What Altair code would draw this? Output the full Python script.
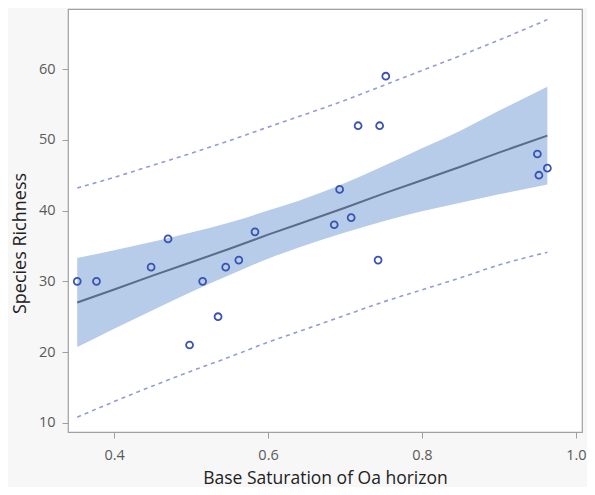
import altair as alt
import pandas as pd

# Observed points
base_sat = [0.352, 0.377, 0.448, 0.470, 0.498, 0.515, 0.535, 0.545, 0.562, 0.583,
            0.686, 0.693, 0.708, 0.717, 0.745, 0.743, 0.753, 0.950, 0.952, 0.963]
richness = [30, 30, 32, 36, 21, 30, 25, 32, 33, 37,
            38, 43, 39, 52, 52, 33, 59, 48, 45, 46]

# Fit, confidence band and prediction limits
band_x = [0.352, 0.40, 0.45, 0.50, 0.55, 0.60, 0.64, 0.70, 0.75, 0.80, 0.85, 0.90, 0.963]
fit    = [27.0, 28.85, 30.8, 32.7, 34.6, 36.6, 38.1, 40.4, 42.4, 44.3, 46.2, 48.2, 50.6]
ci_lo  = [20.7, 23.3, 25.9, 28.5, 30.9, 33.2, 34.8, 36.9, 38.5, 39.9, 41.1, 42.3, 43.7]
ci_hi  = [33.3, 34.4, 35.6, 36.9, 38.3, 40.0, 41.4, 43.9, 46.3, 48.8, 51.3, 54.1, 57.5]
pi_lo  = [10.8, 13.0, 15.2, 17.3, 19.3, 21.4, 22.9, 25.2, 27.1, 28.8, 30.5, 32.3, 34.1]
pi_hi  = [43.2, 44.7, 46.4, 48.1, 49.9, 51.8, 53.3, 55.6, 57.7, 59.8, 61.9, 64.1, 67.0]

x_ticks = [0.4, 0.6, 0.8, 1.0]
y_ticks = [10, 20, 30, 40, 50, 60]

pts = pd.DataFrame({"x": base_sat, "y": richness})
band = pd.DataFrame({"x": band_x, "fit": fit, "lo": ci_lo, "hi": ci_hi,
                     "plo": pi_lo, "phi": pi_hi})

FONT = "Open Sans"
xs = alt.Scale(domain=[0.34, 1.008], nice=False, zero=False)
ys = alt.Scale(domain=[8.7, 68.5], nice=False, zero=False)

xaxis = alt.Axis(values=x_ticks, format=".1f", grid=False, domain=False,
                 tickColor="#a0a0a0", tickSize=6, labelColor="#5a5a5a",
                 labelFont=FONT, labelFontSize=14.5, labelPadding=10,
                 title="Base Saturation of Oa horizon", titleFont=FONT,
                 titleFontSize=17.5, titleFontWeight="normal", titleColor="#222222",
                 titleX=257, titleY=51, titleBaseline="alphabetic", titleAlign="center")
yaxis = alt.Axis(values=y_ticks, grid=False, domain=False,
                 tickColor="#a0a0a0", tickSize=6, labelColor="#5a5a5a",
                 labelFont=FONT, labelFontSize=14.5, labelPadding=7,
                 title="Species Richness", titleFont=FONT,
                 titleFontSize=18, titleFontWeight="normal", titleColor="#222222",
                 titleAngle=270, titleX=-48, titleY=234, titleBaseline="middle",
                 titleAlign="center")

bb = alt.Chart(band)
area = bb.mark_area(color="#b7cce8", opacity=1, interpolate="monotone").encode(
    x=alt.X("x:Q", scale=xs, axis=xaxis),
    y=alt.Y("lo:Q", scale=ys, axis=yaxis),
    y2="hi:Q",
)
fit_line = bb.mark_line(color="#5a6b8e", strokeWidth=2).encode(
    x=alt.X("x:Q", scale=xs), y=alt.Y("fit:Q", scale=ys))
pl_lo = bb.mark_line(color="#929dd3", strokeWidth=1.6, strokeDash=[4, 4],
                     interpolate="monotone").encode(
    x=alt.X("x:Q", scale=xs), y=alt.Y("plo:Q", scale=ys))
pl_hi = bb.mark_line(color="#929dd3", strokeWidth=1.6, strokeDash=[4, 4],
                     interpolate="monotone").encode(
    x=alt.X("x:Q", scale=xs), y=alt.Y("phi:Q", scale=ys))
points = alt.Chart(pts).mark_point(shape="circle", filled=False, color="#3853b3",
                                   size=48, strokeWidth=1.8, opacity=1).encode(
    x=alt.X("x:Q", scale=xs), y=alt.Y("y:Q", scale=ys))

chart = alt.layer(area, pl_lo, pl_hi, fit_line, points).properties(
    width=514, height=423,
    autosize=alt.AutoSizeParams(type="none"),
    padding={"left": 60, "top": 1, "right": 5, "bottom": 55},
    background="#f7f7f7",
).configure_view(stroke="#a0a0a0", strokeWidth=1.2, fill="white")

chart.save("out.html", embed_options={"renderer": "svg", "actions": False})
